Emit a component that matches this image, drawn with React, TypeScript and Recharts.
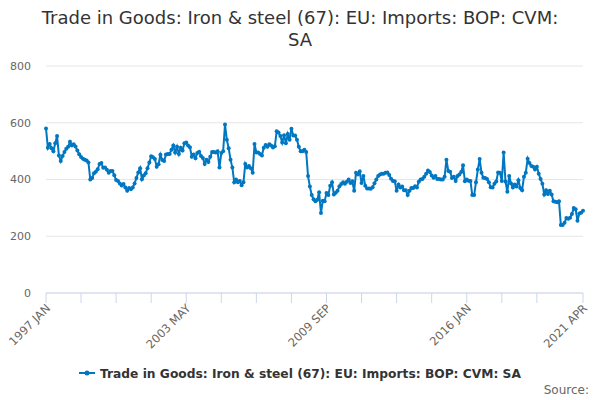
import { CartesianGrid, Line, LineChart, XAxis, YAxis } from "recharts";

const FONT = "'DejaVu Sans', sans-serif";
const LINE_COLOR = "#0077c0";
const SERIES_NAME = "Trade in Goods: Iron & steel (67): EU: Imports: BOP: CVM: SA";

const MONTHS = ["JAN", "FEB", "MAR", "APR", "MAY", "JUN", "JUL", "AUG", "SEP", "OCT", "NOV", "DEC"];
const START_YEAR = 1997;

// monthly values (£m, CVM, SA)
const imports1997to2002 = [
  580, 512, 525, 510, 500, 528, 553, 485, 465, 483, 497, 508,
  515, 533, 520, 524, 516, 502, 489, 479, 473, 470, 467, 460,
  400, 405, 422, 427, 436, 455, 458, 441, 442, 434, 424, 430,
  430, 415, 398, 395, 386, 379, 384, 372, 360, 370, 366, 372,
  386, 405, 425, 440, 401, 414, 422, 440, 460, 482, 478, 472,
  445, 454, 487, 469, 465, 488, 490, 490, 505, 520, 495, 515,
];
const imports2003to2008 = [
  490, 512, 502, 528, 530, 520, 514, 480, 488, 475, 493, 498,
  483, 476, 455, 470, 462, 480, 497, 497, 495, 500, 442, 493,
  500, 594, 540, 510, 470, 442, 390, 400, 390, 395, 380, 390,
  455, 442, 448, 440, 424, 525, 495, 495, 490, 485, 512, 522,
  515, 524, 520, 513, 517, 570, 566, 553, 530, 556, 528, 560,
  540, 579, 555, 555, 540, 515, 500, 500, 505, 497, 412, 375,
];
const imports2009to2014 = [
  345, 330, 323, 329, 355, 282, 325, 323, 352, 345, 378, 390,
  347, 353, 360, 376, 384, 390, 385, 392, 400, 388, 394, 360,
  424, 418, 428, 388, 412, 378, 368, 368, 367, 373, 387, 400,
  412, 418, 420, 420, 424, 425, 416, 403, 395, 394, 360, 382,
  372, 375, 362, 362, 345, 360, 370, 370, 376, 372, 392, 400,
  402, 410, 420, 432, 426, 414, 406, 412, 402, 402, 400, 400,
];
const imports2015to2021 = [
  410, 470, 430, 427, 405, 410, 395, 412, 418, 426, 450, 394,
  400, 396, 395, 345, 345, 390, 435, 472, 424, 406, 405, 402,
  390, 373, 372, 385, 393, 425, 424, 395, 495, 393, 357, 412,
  386, 372, 382, 375, 397, 370, 362, 410, 424, 473, 458, 448,
  445, 435, 445, 420, 402, 385, 347, 362, 349, 360, 347, 323,
  322, 320, 323, 240, 240, 248, 264, 262, 265, 278, 300, 295,
  255, 280, 283, 290,
];

const importValues = [...imports1997to2002, ...imports2003to2008, ...imports2009to2014, ...imports2015to2021];
const periods = importValues.map((_, i) => `${START_YEAR + Math.floor(i / 12)} ${MONTHS[i % 12]}`);

const tickPeriods = [
  "1997 JAN", "1998 AUG", "2000 MAR", "2001 OCT", "2003 MAY", "2004 DEC", "2006 JUL", "2008 FEB",
  "2009 SEP", "2011 APR", "2012 NOV", "2014 JUN", "2016 JAN", "2017 AUG", "2019 MAR", "2021 APR",
];
const labeledPeriods = ["1997 JAN", "2003 MAY", "2009 SEP", "2016 JAN", "2021 APR"];
const yTicks = [0, 200, 400, 600, 800];

const data = periods.map((period, i) => ({ period, value: importValues[i] }));

function PeriodTick({ x, y, payload }: any) {
  if (!labeledPeriods.includes(payload.value)) return <g />;
  const tx = x + 5;
  const ty = y + 4;
  return (
    <text x={tx} y={ty} transform={`rotate(-45 ${tx} ${ty})`} textAnchor="end" fill="#666666" fontSize={11.5} fontFamily={FONT}>
      {payload.value}
    </text>
  );
}

export default function App() {
  return (
    <div style={{ position: "absolute", left: 0, top: 0, width: 600, height: 400, background: "#fff", fontFamily: FONT }}>
      <LineChart width={600} height={400} data={data} margin={{ top: 66, right: 17, bottom: 57, left: 0 }}>
        <CartesianGrid stroke="#e6e6e6" vertical={false} />
        <XAxis
          dataKey="period"
          ticks={tickPeriods}
          interval={0}
          height={50}
          tickSize={10}
          tick={<PeriodTick />}
          axisLine={{ stroke: "#ccd6eb" }}
          tickLine={{ stroke: "#ccd6eb" }}
        />
        <YAxis
          domain={[0, 800]}
          ticks={yTicks}
          width={46}
          axisLine={false}
          tickLine={false}
          tickSize={0}
          tickMargin={15}
          tick={{ fill: "#666666", fontSize: 11, fontFamily: FONT }}
        />
        <Line
          dataKey="value"
          stroke={LINE_COLOR}
          strokeWidth={2}
          dot={{ r: 2, fill: LINE_COLOR, stroke: LINE_COLOR, strokeWidth: 0 }}
          isAnimationActive={false}
        />
      </LineChart>
      <svg width={600} height={400} style={{ position: "absolute", left: 0, top: 0, pointerEvents: "none" }}>
        <text x={300} y={24} textAnchor="middle" fontSize={18} fill="#333333" fontFamily={FONT}>
          Trade in Goods: Iron &amp; steel (67): EU: Imports: BOP: CVM:
        </text>
        <text x={300} y={46} textAnchor="middle" fontSize={18} fill="#333333" fontFamily={FONT}>
          SA
        </text>
        <line x1={79} y1={373} x2={95} y2={373} stroke={LINE_COLOR} strokeWidth={2} />
        <circle cx={87} cy={373} r={2.5} fill={LINE_COLOR} />
        <text x={100} y={377.5} fontSize={12.25} fontWeight="bold" fill="#333333" fontFamily={FONT}>
          {SERIES_NAME}
        </text>
        <text x={589} y={394} textAnchor="end" fontSize={12} fill="#666666" fontFamily={FONT}>
          Source:
        </text>
      </svg>
    </div>
  );
}
